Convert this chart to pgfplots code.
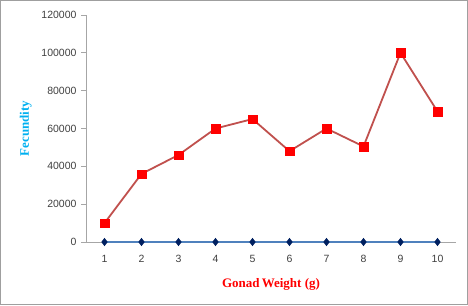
\documentclass[border=0pt]{standalone}
\usepackage{pgfplots}
\pgfplotsset{compat=1.18}
\usepackage{fontspec}
\setmainfont{Liberation Serif}
\newfontfamily\ticksf{Liberation Sans}
\definecolor{redline}{HTML}{C0504D}
\definecolor{redmark}{HTML}{FF0000}
\definecolor{blueline}{HTML}{4F81BD}
\definecolor{bluemark}{HTML}{002060}
\definecolor{axisgray}{HTML}{A6A6A6}
\definecolor{ticktext}{HTML}{404040}
\definecolor{ylab}{HTML}{00B0F0}
\definecolor{xlab}{HTML}{FF0000}
\begin{document}
\begin{tikzpicture}[x=1pt,y=1pt]
\useasboundingbox (0,0) rectangle (468,305);
\draw[color=gray!75, line width=1.2pt] (0.6,0.6) rectangle (467.4,304.4);
\begin{axis}[
  at={(86pt,63pt)}, anchor=south west,
  scale only axis, width=370pt, height=227pt,
  xmin=0.5, xmax=10.5, ymin=0, ymax=120000,
  axis x line=bottom, axis y line=left,
  axis line style={draw=axisgray, -, line width=0.8pt},
  xtick={1,...,10}, ytick={0,20000,...,120000},
  scaled y ticks=false,
  yticklabel style={/pgf/number format/fixed, /pgf/number format/1000 sep={}},
  /pgf/number format/assume math mode=true,
  tick label style={font=\ticksf\fontsize{10.5}{12}\selectfont, text=ticktext},
  x tick style={draw=none},
  y tick style={draw=axisgray, line width=0.8pt},
  tick align=outside, major tick length=5pt,
  xticklabel style={yshift=-5pt},
  yticklabel style={xshift=-1pt},
  xlabel={\textbf{Gonad\,Weight (g)}},
  ylabel={\textbf{Fecundity}},
  xlabel style={font=\fontsize{13}{15}\selectfont, text=xlab, at={(axis description cs:0.5,-0.185)}, anchor=center},
  ylabel style={font=\fontsize{13}{15}\selectfont, text=ylab, at={(axis description cs:-0.163,0.5)}, anchor=center},
  clip=false,
]
\addplot[color=blueline, line width=1.1pt, mark=diamond*, mark size=3.8pt,
  mark options={fill=bluemark, draw=bluemark, line width=0.4pt}]
  coordinates {(1,0)(2,0)(3,0)(4,0)(5,0)(6,0)(7,0)(8,0)(9,0)(10,0)};
\addplot[color=redline, line width=1.8pt, mark=square*, mark size=4.2pt,
  mark options={fill=redmark, draw=redmark, line width=0.3pt}]
  coordinates {(1,10000)(2,36000)(3,46000)(4,60000)(5,65000)(6,48000)(7,60000)(8,50500)(9,100000)(10,69000)};
\end{axis}
\end{tikzpicture}
\end{document}
